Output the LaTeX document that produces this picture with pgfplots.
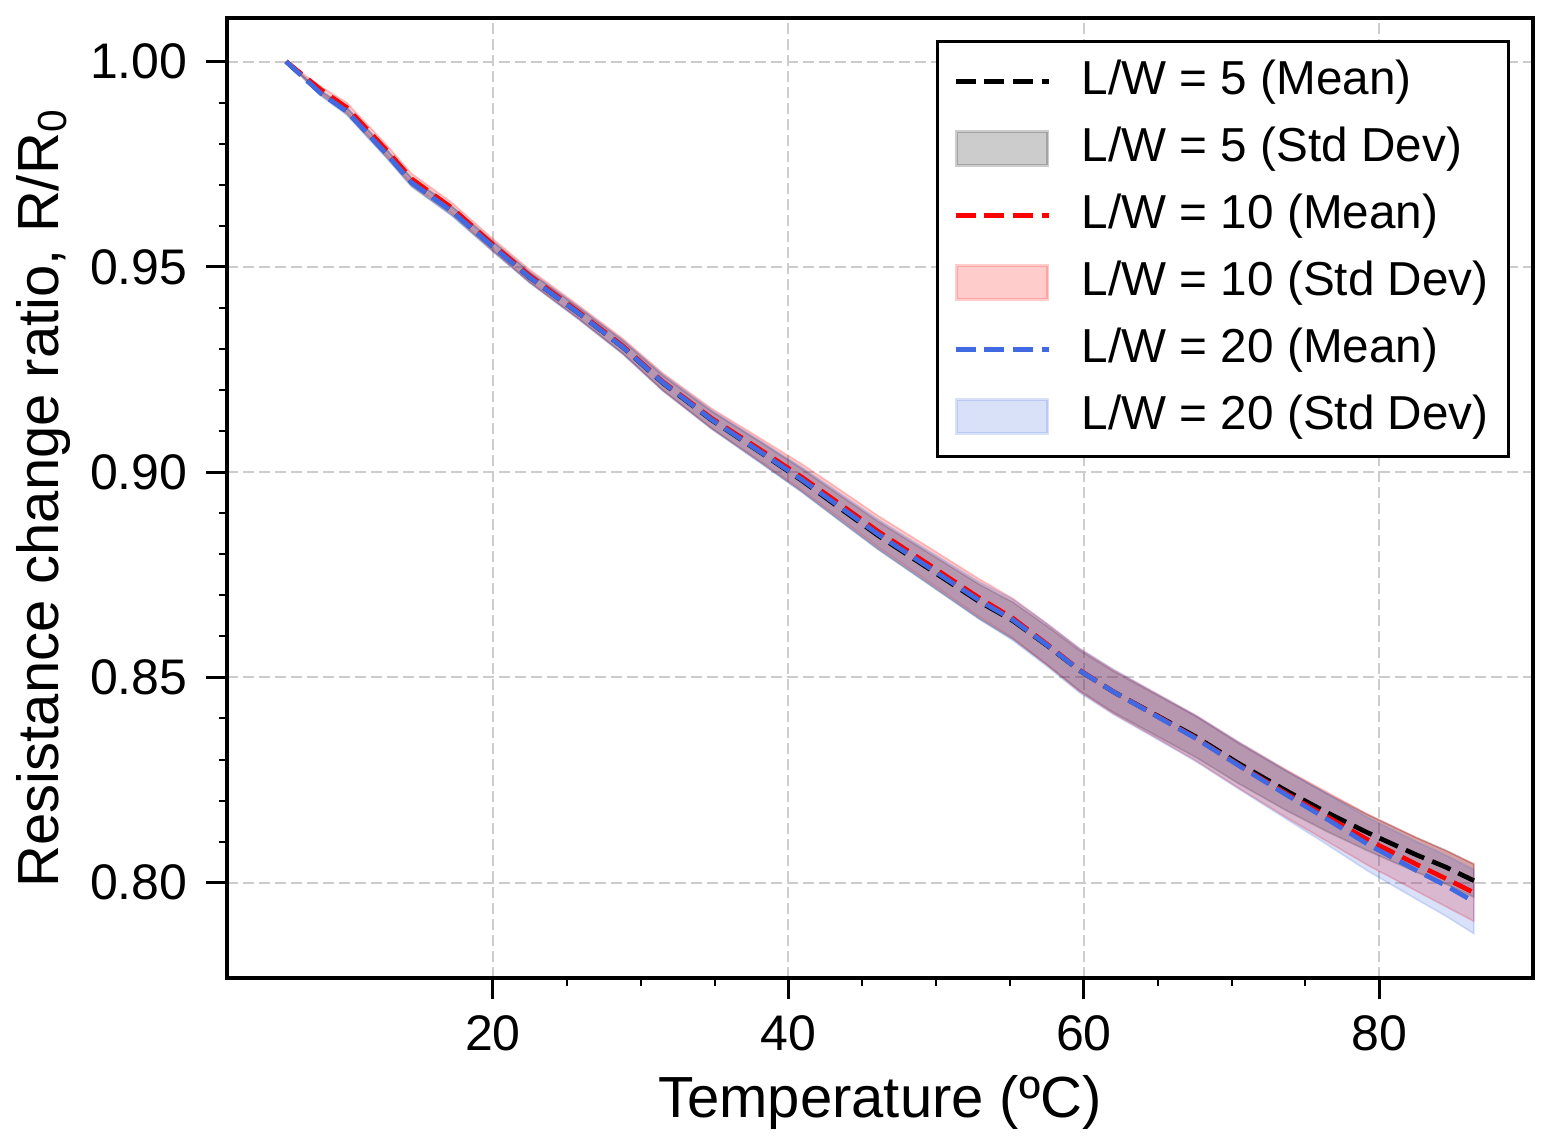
\documentclass[border=0pt]{standalone}
\usepackage{fontspec}
\setmainfont{Liberation Sans}
\usepackage{pgfplots}
\pgfplotsset{compat=1.18}
\usepgfplotslibrary{fillbetween}
\usepackage{pgfplotstable}
\definecolor{myblue}{RGB}{65,105,225}

\pgfplotstableread{
T    m5     s5     m10    s10    m20    s20
6.0  1.0000 0.0000 1.0000 0.0000 1.0000 0.0000
8.4  0.9922 0.0005 0.9930 0.0008 0.9921 0.0006
10.1 0.9880 0.0008 0.9888 0.0012 0.9879 0.0009
12.8 0.9776 0.0010 0.9784 0.0013 0.9775 0.0010
14.5 0.9706 0.0010 0.9714 0.0013 0.9705 0.0010
17.2 0.9637 0.0011 0.9644 0.0013 0.9636 0.0011
20.0 0.9550 0.0012 0.9554 0.0014 0.9549 0.0012
22.5 0.9474 0.0013 0.9478 0.0015 0.9474 0.0013
25.8 0.9387 0.0014 0.9390 0.0016 0.9387 0.0015
28.8 0.9304 0.0016 0.9307 0.0018 0.9304 0.0017
31.5 0.9217 0.0018 0.9220 0.0021 0.9218 0.0020
34.8 0.9127 0.0021 0.9131 0.0024 0.9128 0.0023
38.2 0.9046 0.0025 0.9052 0.0028 0.9047 0.0027
40.9 0.8980 0.0028 0.8988 0.0032 0.8982 0.0030
43.5 0.8912 0.0031 0.8922 0.0035 0.8915 0.0033
46.1 0.8845 0.0034 0.8855 0.0038 0.8848 0.0036
49.5 0.8765 0.0038 0.8775 0.0042 0.8768 0.0040
52.9 0.8685 0.0042 0.8694 0.0046 0.8688 0.0045
55.2 0.8638 0.0045 0.8644 0.0048 0.8640 0.0050
57.5 0.8578 0.0047 0.8581 0.0050 0.8579 0.0052
59.7 0.8517 0.0049 0.8518 0.0052 0.8517 0.0054
62.0 0.8465 0.0050 0.8465 0.0053 0.8465 0.0055
64.8 0.8410 0.0050 0.8409 0.0054 0.8408 0.0055
67.6 0.8355 0.0050 0.8352 0.0055 0.8351 0.0056
70.5 0.8290 0.0049 0.8286 0.0056 0.8285 0.0057
73.8 0.8222 0.0048 0.8215 0.0058 0.8212 0.0059
76.5 0.8170 0.0046 0.8160 0.0060 0.8154 0.0062
79.2 0.8122 0.0044 0.8105 0.0062 0.8094 0.0065
82.5 0.8068 0.0042 0.8045 0.0065 0.8030 0.0070
84.5 0.8038 0.0041 0.8010 0.0068 0.7993 0.0074
86.4 0.8005 0.0040 0.7976 0.0070 0.7954 0.0078
}\datatable

\pgfplotsset{
  mylinelegend/.style={legend image code/.code={%
    \draw[##1] (0bp,0bp) -- (28bp,0bp);
    \path[draw=none, fill=none] (-2.4bp,0bp) -- (34.9bp,0bp);}},
  myarealegend/.style={legend image code/.code={%
    \draw[##1] (0.3bp,-5bp) rectangle (27.7bp,5bp);
    \path[draw=none, fill=none] (-2.4bp,0bp) -- (34.9bp,0bp);}},
}

\begin{document}
\begin{tikzpicture}
\begin{axis}[
  scale only axis,
  width=391.8bp, height=288bp,
  xmin=2, xmax=90.4, ymin=0.7768, ymax=1.0106,
  xtick={20,40,60,80}, minor x tick num=3,
  ytick={0.80,0.85,0.90,0.95,1.00}, minor y tick num=4,
  /pgf/number format/assume math mode=true,
  tick align=outside, tick pos=left,
  major tick length=6.3bp, minor tick length=2.4bp,
  major tick style={black, line width=0.9bp},
  minor tick style={black, line width=0.6bp},
  axis line style={black, line width=1.2bp},
  grid=major,
  major grid style={draw=black!20, line width=0.6bp, dash pattern=on 3.3bp off 1.5bp},
  tick label style={font=\fontsize{15bp}{18bp}\selectfont},
  xticklabel style={anchor=base, yshift=-15.3bp},
  yticklabel style={anchor=east, inner sep=0pt, xshift=-5.4bp,
    /pgf/number format/fixed, /pgf/number format/fixed zerofill,
    /pgf/number format/precision=2},
  xlabel={Temperature (ºC)},
  ylabel={Resistance change ratio, R/R\textsubscript{0}},
  every axis x label/.style={at={(axis description cs:0.5,-0.1458)}, anchor=base,
    font=\fontsize{17.4bp}{20bp}\selectfont},
  every axis y label/.style={at={(axis description cs:-0.1294,0.5)}, rotate=90, anchor=base,
    font=\fontsize{17.4bp}{20bp}\selectfont},
  legend cell align=left,
  legend style={at={(axis description cs:1,1)}, anchor=north east,
    xshift=-6.9bp, yshift=-6.6bp,
    draw=black, line width=0.9bp, fill=white,
    inner xsep=3bp, inner ysep=3bp, row sep=2.1bp,
    nodes={inner xsep=3bp, inner ysep=2bp, text height=11bp, text depth=3bp,
      font=\fontsize{14.3bp}{17bp}\selectfont}},
]
\addlegendimage{mylinelegend, black, line width=1.4bp, dash pattern=on 6bp off 2.6bp}
\addlegendentry{L/W = 5 (Mean)}
\addlegendimage{myarealegend, fill=black, draw=black, opacity=0.2, line width=0.9bp}
\addlegendentry{L/W = 5 (Std Dev)}
\addlegendimage{mylinelegend, red, line width=1.4bp, dash pattern=on 6bp off 2.6bp}
\addlegendentry{L/W = 10 (Mean)}
\addlegendimage{myarealegend, fill=red, draw=red, opacity=0.2, line width=0.9bp}
\addlegendentry{L/W = 10 (Std Dev)}
\addlegendimage{mylinelegend, myblue, line width=1.4bp, dash pattern=on 6bp off 2.6bp}
\addlegendentry{L/W = 20 (Mean)}
\addlegendimage{myarealegend, fill=myblue, draw=myblue, opacity=0.2, line width=0.9bp}
\addlegendentry{L/W = 20 (Std Dev)}

% bands
\addplot[name path=u5, draw=none, forget plot] table[x=T, y expr=\thisrow{m5}+\thisrow{s5}] {\datatable};
\addplot[name path=l5, draw=none, forget plot] table[x=T, y expr=\thisrow{m5}-\thisrow{s5}] {\datatable};
\addplot[fill=black, draw=black, opacity=0.2, line width=0.5bp, forget plot] fill between[of=u5 and l5];

\addplot[name path=u10, draw=none, forget plot] table[x=T, y expr=\thisrow{m10}+\thisrow{s10}] {\datatable};
\addplot[name path=l10, draw=none, forget plot] table[x=T, y expr=\thisrow{m10}-\thisrow{s10}] {\datatable};
\addplot[fill=red, draw=red, opacity=0.2, line width=0.5bp, forget plot] fill between[of=u10 and l10];

\addplot[name path=u20, draw=none, forget plot] table[x=T, y expr=\thisrow{m20}+\thisrow{s20}] {\datatable};
\addplot[name path=l20, draw=none, forget plot] table[x=T, y expr=\thisrow{m20}-\thisrow{s20}] {\datatable};
\addplot[fill=myblue, draw=myblue, opacity=0.2, line width=0.5bp, forget plot] fill between[of=u20 and l20];

% means
\addplot[black, line width=1.4bp, dash pattern=on 6bp off 2.6bp, forget plot] table[x=T, y=m5] {\datatable};
\addplot[red, line width=1.4bp, dash pattern=on 6bp off 2.6bp, forget plot] table[x=T, y=m10] {\datatable};
\addplot[myblue, line width=1.4bp, dash pattern=on 6bp off 2.6bp, forget plot] table[x=T, y=m20] {\datatable};
\end{axis}
\pgfresetboundingbox
\path ([shift={(-68.1bp,-49.5bp)}]current axis.south west) rectangle ([shift={(2.7bp,5.4bp)}]current axis.north east);
\end{tikzpicture}
\end{document}
